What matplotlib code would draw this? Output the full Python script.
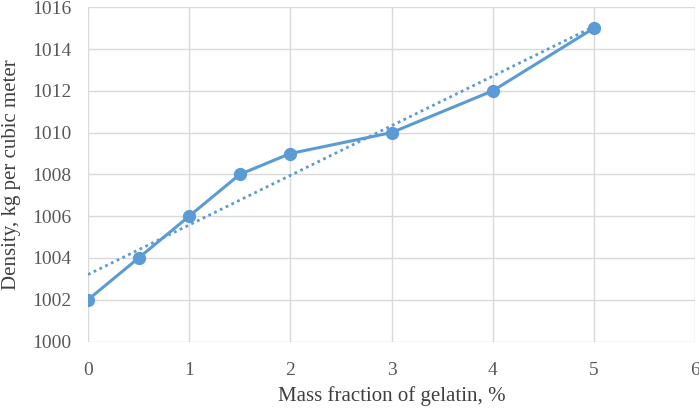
import matplotlib
matplotlib.use("Agg")
import matplotlib.pyplot as plt
import numpy as np

x_vals = [0, 0.5, 1, 1.5, 2, 3, 4, 5]
density = [1002, 1004, 1006, 1008, 1009, 1010, 1012, 1015]
x_ticks = [0, 1, 2, 3, 4, 5, 6]
y_ticks = list(range(1000, 1017, 2))

plt.rcParams['font.family'] = ['Liberation Serif', 'DejaVu Serif']

fig = plt.figure(figsize=(6.99, 4.09), dpi=100)
ax = fig.add_axes([0.1259, 0.165, 0.8684, 0.8172])

color = '#5B9BD5'
ax.plot(x_vals, density, color=color, lw=2.2, marker='o', ms=8.5, zorder=3)

coef = np.polyfit(x_vals, density, 1)
xt = np.array([min(x_vals), max(x_vals)])
ax.plot(xt, np.polyval(coef, xt), color=color, lw=2.0, ls=(0, (1, 1.3)), zorder=2)

ax.set_xlim(0, 6)
ax.set_ylim(1000, 1016)
ax.set_xticks(x_ticks)
ax.set_yticks(y_ticks)
ax.grid(True, color='#D9D9D9', lw=1)
ax.set_axisbelow(True)
for s in ax.spines.values():
    s.set_visible(False)
ax.tick_params(length=0, labelsize=14, colors='#595959')
ax.tick_params(axis='x', pad=15)
ax.tick_params(axis='y', pad=12)
ax.set_xlabel('Mass fraction of gelatin, %', fontsize=15, color='#404040', labelpad=5)
ax.set_ylabel('Density, kg per cubic meter', fontsize=15, color='#404040')
ax.yaxis.set_label_coords(-0.111, 0.5)

fig.savefig('out.png', dpi=100)
